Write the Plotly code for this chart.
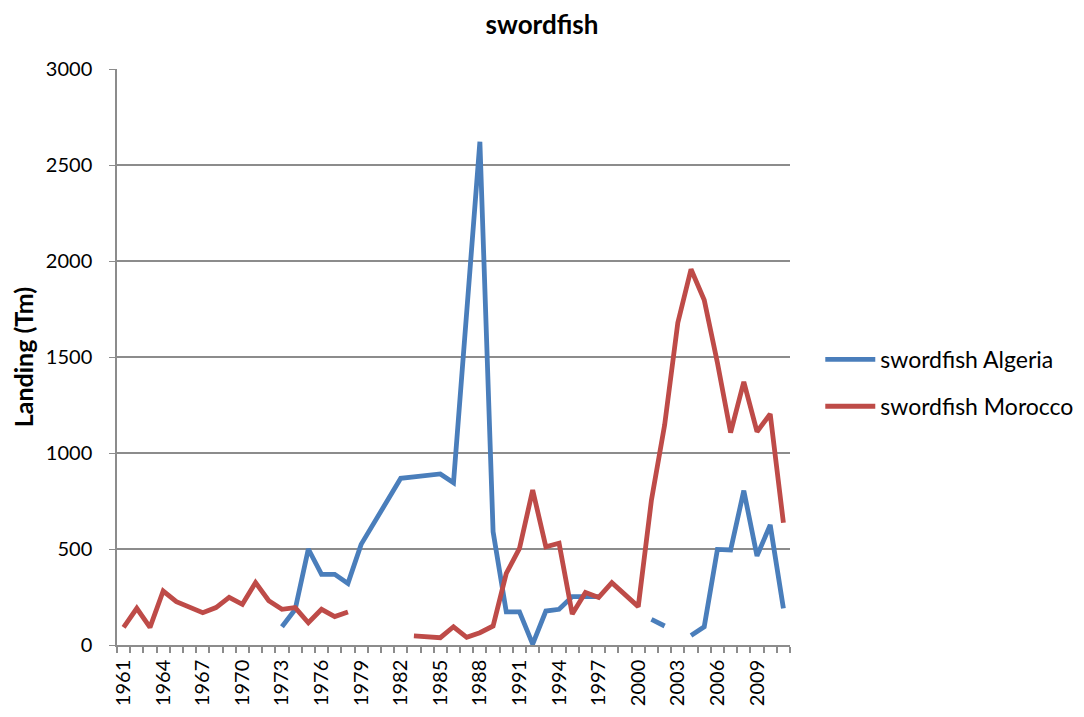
import plotly.graph_objects as go

years = list(range(1961, 2012))
tick_years = [1961, 1964, 1967, 1970, 1973, 1976, 1979, 1982, 1985, 1988, 1991,
              1994, 1997, 2000, 2003, 2006, 2009]
tick_labels = [str(y) for y in tick_years]

algeria = [None] * 12 + [
    95, 185, 500, 368, 368, 321, 524, 642, 755, 868,      # 1973-1982
    876, 884, 891, 845, 1730, 2621, 590, 173, 173, 5,     # 1983-1992
    177, 186, 252, 252, 252,                              # 1993-1997
    None, None, None,                                     # 1998-2000
    134, 99, None,                                        # 2001-2003
    49, 95, 498, 495, 804, 464, 625, 191,                 # 2004-2011
]

morocco = [
    92, 191, 92, 281, 226, 195, 168, 195, 248, 212,       # 1961-1970
    325, 231, 186, 195, 116, 186, 148, 172,               # 1971-1978
    None, None, None, None,                               # 1979-1982
    47, 40, 38, 95, 40, 64, 99, 373, 503, 807,            # 1983-1992
    512, 530, 161, 274, 248, 325, 264, 200,               # 1993-2000
    755, 1146, 1679, 1957, 1797, 1470, 1106, 1371, 1111, 1203, 637,  # 2001-2011
]

FONT = "Lato, Carlito, 'Liberation Sans', sans-serif"
GRID = "#8c8c8c"

fig = go.Figure()
fig.add_trace(go.Scatter(x=years, y=algeria, mode="lines", name="swordfish Algeria",
                         line=dict(color="#4A7EBB", width=4.8), connectgaps=False,
                         legendgroup="a"))
fig.add_trace(go.Scatter(x=years, y=morocco, mode="lines", name="swordfish Morocco",
                         line=dict(color="#BE4B48", width=4.8), connectgaps=False,
                         legendgroup="b"))

boundaries = [y + 0.5 for y in range(1960, 2012)]

# page body has an 8px margin, so the figure is sized to fit inside the window
fig.update_layout(
    width=1068, height=701,
    margin=dict(l=109, r=286, t=61, b=64, autoexpand=False),
    plot_bgcolor="white", paper_bgcolor="white",
    font=dict(family=FONT, size=20, color="black"),
    title=dict(text="<b>swordfish</b>", x=0.5, xanchor="center", y=0.976, yanchor="middle",
               font=dict(family=FONT, size=26, color="black")),
    showlegend=True,
    legend=dict(x=1.045, xanchor="left", y=0.455, yanchor="middle",
                font=dict(family=FONT, size=23, color="black"),
                itemwidth=50,
                traceorder="grouped", tracegroupgap=14, bgcolor="rgba(0,0,0,0)"),
    xaxis=dict(
        range=[1960.5, 2011.5], tickmode="array", tickvals=tick_years, ticktext=tick_labels,
        tickangle=-90, ticks="", showgrid=False, zeroline=False, automargin=False,
        showline=True, linecolor=GRID, linewidth=1.5, ticklabelstandoff=5,
        tickfont=dict(family=FONT, size=20, color="black"),
        minor=dict(tickmode="array", tickvals=boundaries, ticks="outside", ticklen=6,
                   tickcolor=GRID, tickwidth=1.5, showgrid=False),
    ),
    yaxis=dict(
        range=[0, 3000], dtick=500, showgrid=True, gridcolor=GRID, gridwidth=1.5,
        zeroline=False, showline=True, linecolor=GRID, linewidth=1.5, automargin=False,
        ticks="outside", ticklen=6, tickcolor=GRID, ticklabelstandoff=13,
        tickfont=dict(family=FONT, size=20, color="black"),
        title=dict(text="<b>Landing (Tm)</b>", standoff=14,
                   font=dict(family=FONT, size=25, color="black")),
    ),
)

fig.write_html("out.html")
